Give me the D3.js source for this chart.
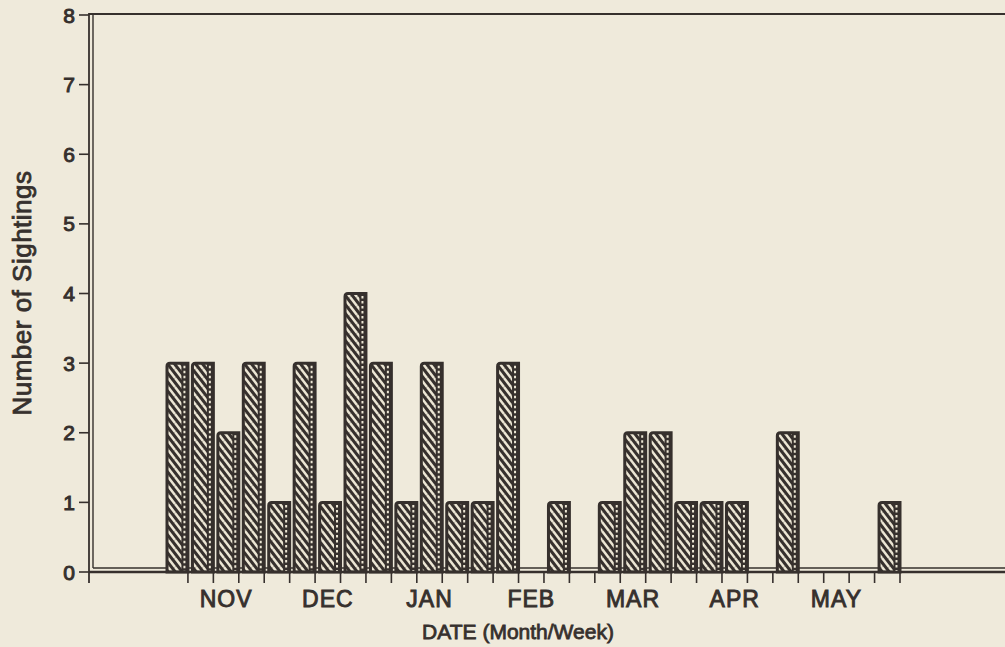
<!DOCTYPE html>
<html>
<head>
<meta charset="utf-8">
<script src="https://cdn.jsdelivr.net/npm/d3@7"></script>
<style>
  html, body { margin: 0; padding: 0; background: #efeadb; }
  svg { display: block; }
  text { font-family: "Liberation Sans", Arial, sans-serif; fill: #36302d; }
</style>
</head>
<body>
<svg id="chart" width="1005" height="647"></svg>
<script>
// ---- data ----
const weeks = ["N1","N2","N3","N4","D1","D2","D3","D4","J1","J2","J3","J4","F1","F2","F3","F4",
               "M1","M2","M3","M4","A1","A2","A3","A4","Y1","Y2","Y3","Y4","Y5"];
const sightings = [3,3,2,3,1,3,1,4,3,1,3,1,1,3,0,1,0,1,2,2,1,1,1,0,2,0,0,0,1];
const monthLabels = ["NOV","DEC","JAN","FEB","MAR","APR","MAY"];
const monthCenterWeek = ["N3","D3","J3","F3","M3","A3","Y3"];
const yTicks = [0,1,2,3,4,5,6,7,8];
const xTitle = "DATE (Month/Week)";
const yTitle = "Number of Sightings";

// ---- layout ----
const ink = "#36302d";
const light = "#ece6d4";
const svg = d3.select("#chart");
const axisX = 89, frameX = 93, rightX = 1005;

const x = d3.scaleBand().domain(weeks).range([162.5, 900]).paddingInner(0);
const y = d3.scaleLinear().domain([0, 8]).range([572, 15]);

// pattern
const defs = svg.append("defs");
const pw = 7, ph = 9;
const pat = defs.append("pattern").attr("id", "hatch")
  .attr("patternUnits", "userSpaceOnUse").attr("width", pw).attr("height", ph);
pat.append("rect").attr("width", pw).attr("height", ph).attr("fill", ink);
[[0,0],[-pw,0],[pw,0],[0,-ph],[0,ph]].forEach(s =>
  pat.append("line").attr("x1", s[0]).attr("y1", s[1]).attr("x2", s[0] + pw).attr("y2", s[1] + ph)
    .attr("stroke", light).attr("stroke-width", 2.5));

// frame
svg.append("line").attr("x1", axisX).attr("x2", rightX).attr("y1", y(8)-1).attr("y2", y(8)-1)
  .attr("stroke", ink).attr("stroke-width", 2.2);
svg.append("line").attr("x1", frameX).attr("x2", frameX).attr("y1", y(8)-1).attr("y2", y(0)-4)
  .attr("stroke", ink).attr("stroke-width", 1.4);
svg.append("line").attr("x1", frameX).attr("x2", rightX).attr("y1", y(0)-4).attr("y2", y(0)-4)
  .attr("stroke", ink).attr("stroke-width", 1.4);
svg.append("line").attr("x1", axisX).attr("x2", axisX).attr("y1", y(8)-2).attr("y2", y(0)+11)
  .attr("stroke", ink).attr("stroke-width", 1.8);

// y ticks
const yg = svg.append("g");
yTicks.forEach(t => {
  yg.append("line").attr("x1", axisX - 10).attr("x2", axisX).attr("y1", y(t)).attr("y2", y(t))
    .attr("stroke", ink).attr("stroke-width", 1.6);
  yg.append("text").attr("x", axisX - 14).attr("y", y(t)).attr("dy", "0.36em")
    .attr("text-anchor", "end").attr("font-size", 21).attr("stroke", ink).attr("stroke-width", 1)
    .text(t);
});

// bars
const bw = x.bandwidth();
const gap = 4.5;
const bars = svg.append("g");
weeks.forEach((w, i) => {
  const v = sightings[i];
  if (v <= 0) return;
  const x0 = x(w) + gap, x1 = x(w) + bw, yt = y(v), yb = y(0);
  const r = 3;
  const p = d3.path();
  p.moveTo(x0, yb); p.lineTo(x0, yt + r); p.quadraticCurveTo(x0, yt, x0 + r, yt);
  p.lineTo(x1, yt); p.lineTo(x1, yb); p.closePath();
  bars.append("path").attr("d", p.toString()).attr("fill", "url(#hatch)")
    .attr("stroke", ink).attr("stroke-width", 3);
  const sx = x1 - 6.5;
  bars.append("rect").attr("x", sx).attr("y", yt).attr("width", 6.5).attr("height", yb - yt)
    .attr("fill", ink);
  bars.append("line").attr("x1", sx + 3).attr("x2", sx + 3).attr("y1", yt + 2.5).attr("y2", yb - 1)
    .attr("stroke", light).attr("stroke-width", 2).attr("stroke-dasharray", "2.5,2.5");
});

// baseline
svg.append("line").attr("x1", axisX).attr("x2", rightX).attr("y1", y(0)).attr("y2", y(0))
  .attr("stroke", ink).attr("stroke-width", 2.6);

// x ticks at week boundaries
weeks.forEach(w => {
  const tx = x(w) + bw;
  svg.append("line").attr("x1", tx).attr("x2", tx).attr("y1", y(0)).attr("y2", y(0) + 11)
    .attr("stroke", ink).attr("stroke-width", 1.6);
});

// month labels
monthLabels.forEach((m, i) => {
  svg.append("text").attr("x", x(monthCenterWeek[i]) + bw / 2).attr("y", 607)
    .attr("text-anchor", "middle").attr("font-size", 23).attr("letter-spacing", 1)
    .attr("stroke", ink).attr("stroke-width", 0.9).text(m);
});

// titles
svg.append("text").attr("x", 518).attr("y", 639).attr("text-anchor", "middle")
  .attr("font-size", 21).attr("stroke", ink).attr("stroke-width", 0.8).text(xTitle);
svg.append("text").attr("transform", "translate(31,293) rotate(-90)")
  .attr("text-anchor", "middle").attr("font-size", 26).attr("letter-spacing", 0.5)
  .attr("stroke", ink).attr("stroke-width", 0.8).text(yTitle);
</script>
</body>
</html>
